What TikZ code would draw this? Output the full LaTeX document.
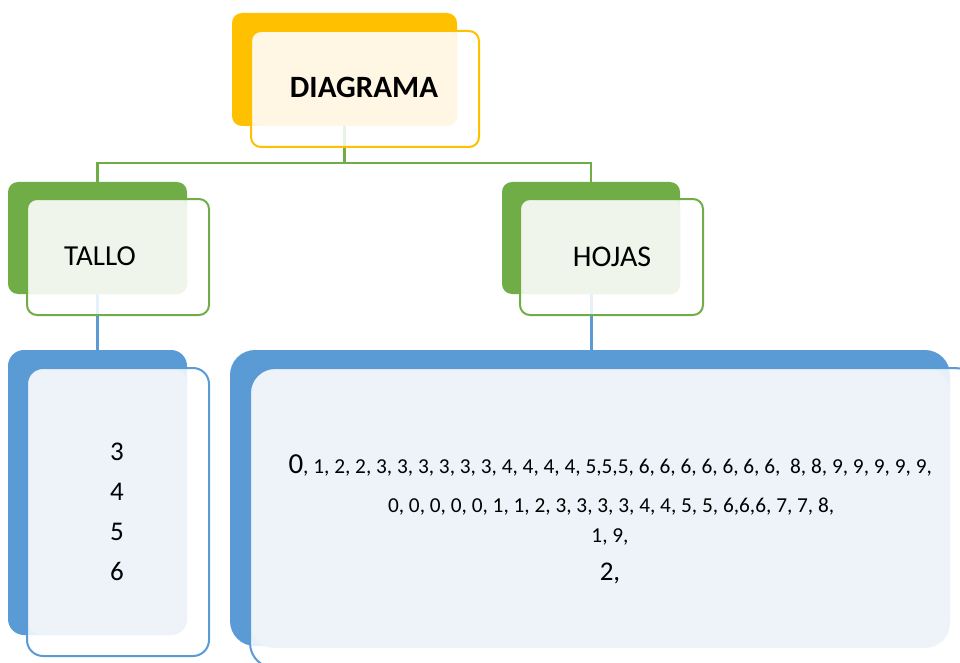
\documentclass[tikz,border=0pt]{standalone}
\usepackage{fontspec}
\setmainfont{Carlito}
\definecolor{gold}{HTML}{FFC000}
\definecolor{cream}{HTML}{FFF7E4}
\definecolor{lgreen}{HTML}{70AD47}
\definecolor{pgreen}{HTML}{EFF5EA}
\definecolor{lblue}{HTML}{5B9BD5}
\definecolor{pblue}{HTML}{EEF3FA}
\tikzset{
  box/.style={anchor=north west, inner sep=0pt, outer sep=0pt, rounded corners=10pt},
  backbox/.style={box, draw=none, fill=#1},
  frontbox/.style={box, draw=#1, line width=2pt},
  whitebox/.style={box, draw=none, fill=white, fill opacity=0.85},
  tintbox/.style={box, draw=none, fill=#1},
  gline/.style={draw=lgreen, line width=2.5pt},
  bline/.style={draw=lblue, line width=3pt},
  lbl/.style={anchor=base, inner sep=0pt, text=black},
}
\newcommand{\fs}[1]{\fontsize{#1}{#1}\selectfont}
\begin{document}
\begin{tikzpicture}[x=1pt,y=-1pt]
\useasboundingbox (0,0) rectangle (960,663);
\clip (0,0) rectangle (960,663);
% back boxes
\node[backbox=gold, minimum width=225pt, minimum height=113pt] (dB) at (232,13) {};
\node[backbox=lgreen, minimum width=179pt, minimum height=112pt] (tB) at (8,182) {};
\node[backbox=lgreen, minimum width=178pt, minimum height=112pt] (hB) at (502,182) {};
\node[backbox=lblue, rounded corners=16pt, minimum width=179pt, minimum height=285pt] (lB) at (8,350) {};
\node[backbox=lblue, rounded corners=25pt, minimum width=720pt, minimum height=296pt] (rB) at (230,350) {};
% connectors
\draw[gline] (dB.south) -- ++(0,37) -| (tB.north);
\draw[gline] (dB.south) -- ++(0,37) -| (hB.north);
\draw[bline] (tB.south) -- (lB.north);
\draw[bline] (hB.south) -- (hB.south |- rB.north);
% front boxes: white veil
\node[whitebox, minimum width=228pt, minimum height=116pt] (dW) at (251,31) {};
\node[whitebox, minimum width=182pt, minimum height=116pt] (tW) at (27,199) {};
\node[whitebox, minimum width=183pt, minimum height=116pt] (hW) at (520,199) {};
\node[whitebox, rounded corners=16pt, minimum width=182pt, minimum height=288pt] (lW) at (27,368) {};
\node[whitebox, rounded corners=25pt, minimum width=730pt, minimum height=300pt] (rW) at (250,368) {};
% tinted overlap
\node[tintbox=cream, minimum width=206pt, minimum height=95pt] (dT) at (251,31) {};
\node[tintbox=pgreen, minimum width=160pt, minimum height=95pt] (tT) at (27,199) {};
\node[tintbox=pgreen, minimum width=160pt, minimum height=95pt] (hT) at (520,199) {};
\node[tintbox=pblue, rounded corners=16pt, minimum width=160pt, minimum height=267pt] (lT) at (27,368) {};
\node[tintbox=pblue, rounded corners=25pt, minimum width=700pt, minimum height=280pt] (rT) at (250,368) {};
% outlines
\node[frontbox=gold, minimum width=228pt, minimum height=116pt] (dF) at (251,31) {};
\node[frontbox=lgreen, minimum width=182pt, minimum height=116pt] (tF) at (27,199) {};
\node[frontbox=lgreen, minimum width=183pt, minimum height=116pt] (hF) at (520,199) {};
\node[frontbox=lblue, rounded corners=16pt, minimum width=182pt, minimum height=288pt] (lF) at (27,368) {};
\node[frontbox=lblue, rounded corners=25pt, minimum width=730pt, minimum height=300pt] (rF) at (250,368) {};
% texts
\node[lbl] (dtxt) at (364,98) {\fs{31}\bfseries DIAGRAMA};
\node[lbl] (ttxt) at (100,265) {\fs{29}TALLO};
\node[lbl] (htxt) at (612,266) {\fs{30}HOJAS};
\node[lbl] (l3) at (117,460) {\fs{27}3};
\node[lbl] (l4) at (117,500) {\fs{27}4};
\node[lbl] (l5) at (117,540) {\fs{27}5};
\node[lbl] (l6) at (117,580) {\fs{27}6};
\node[lbl] (r1) at (610,473) {{\fs{29}0}{\fs{21.3}, 1, 2, 2, 3, 3, 3, 3, 3, 3, 4, 4, 4, 4, 5,5,5, 6, 6, 6, 6, 6, 6, 6,\ \ 8, 8, 9, 9, 9, 9, 9,}};
\node[lbl] (r2) at (611,512) {\fs{21.3}0, 0, 0, 0, 0, 1, 1, 2, 3, 3, 3, 3, 4, 4, 5, 5, 6,6,6, 7, 7, 8,};
\node[lbl] (r3) at (610,542) {\fs{21.3}1, 9,};
\node[lbl] (r4) at (610,580) {\fs{27}2,};
\end{tikzpicture}
\end{document}
